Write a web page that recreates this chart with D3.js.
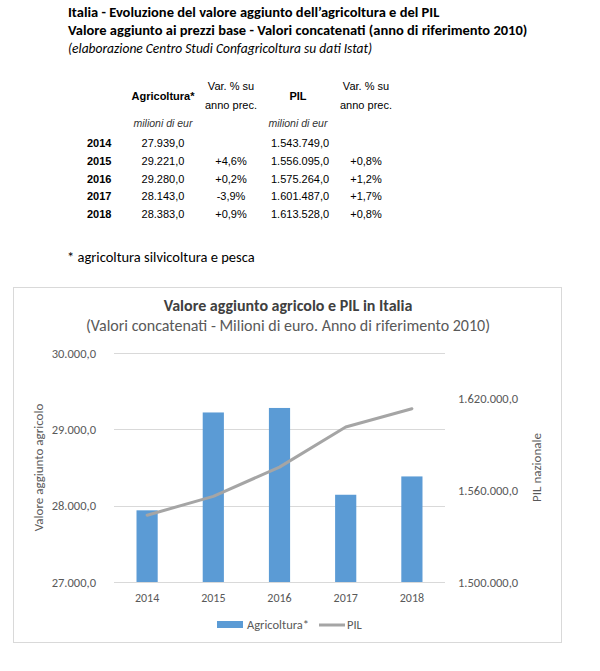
<!DOCTYPE html>
<html><head><meta charset="utf-8">
<script src="https://cdn.jsdelivr.net/npm/d3@7"></script>
<style>body{margin:0;background:#fff}svg{display:block}</style>
</head><body>
<script>
// ---- data ----
const years = ["2014","2015","2016","2017","2018"];
const agricoltura = [27939.0, 29221.0, 29280.0, 28143.0, 28383.0];
const agriVar = ["", "+4,6%", "+0,2%", "-3,9%", "+0,9%"];
const pil = [1543749.0, 1556095.0, 1575264.0, 1601487.0, 1613528.0];
const pilVar = ["", "+0,8%", "+1,2%", "+1,7%", "+0,8%"];
const leftTicks = [27000, 28000, 29000, 30000];
const rightTicks = [1500000, 1560000, 1620000];
const seriesNames = ["Agricoltura*", "PIL"];

const W = 600, H = 671;
const svg = d3.select("body").append("svg").attr("width", W).attr("height", H);
const calibri = "Carlito, Lato, 'Open Sans', sans-serif";
const arial = "'Liberation Sans', Arial, sans-serif";

// number format Italian style: 1.543.749,0
const itFmt = d3.formatLocale({decimal: ",", thousands: ".", grouping: [3], currency: ["€",""]}).format(",.1f");

// ---- header text ----
svg.append("text").attr("x", 68).attr("y", 17).attr("font-family", calibri).attr("font-weight", "bold")
  .attr("font-size", 14.5).attr("fill", "#000").text("Italia - Evoluzione del valore aggiunto dell\u2019agricoltura e del PIL");
svg.append("text").attr("x", 68).attr("y", 35).attr("font-family", calibri).attr("font-weight", "bold")
  .attr("font-size", 14.5).attr("fill", "#000").text("Valore aggiunto ai prezzi base - Valori concatenati (anno di riferimento 2010)");
svg.append("text").attr("x", 68).attr("y", 53).attr("font-family", calibri).attr("font-style", "italic")
  .attr("font-size", 13.5).attr("fill", "#000").text("(elaborazione Centro Studi Confagricoltura su dati Istat)");

// ---- table ----
const tbl = svg.append("g").attr("font-family", arial).attr("font-size", 11).attr("fill", "#000");
const colX = {agri: 163, agriVar: 231, pil: 294, pilVar: 366};
tbl.append("text").attr("x", colX.agri).attr("y", 100).attr("text-anchor", "middle").attr("font-weight", "bold").text("Agricoltura*");
tbl.append("text").attr("x", colX.agriVar).attr("y", 90).attr("text-anchor", "middle").text("Var. % su");
tbl.append("text").attr("x", colX.agriVar).attr("y", 109).attr("text-anchor", "middle").text("anno prec.");
tbl.append("text").attr("x", 298).attr("y", 100).attr("text-anchor", "middle").attr("font-weight", "bold").text("PIL");
tbl.append("text").attr("x", colX.pilVar).attr("y", 90).attr("text-anchor", "middle").text("Var. % su");
tbl.append("text").attr("x", colX.pilVar).attr("y", 109).attr("text-anchor", "middle").text("anno prec.");
tbl.append("text").attr("x", colX.agri).attr("y", 127).attr("text-anchor", "middle").attr("font-style", "italic").attr("fill", "#333").attr("font-size", 10.5).text("milioni di eur");
tbl.append("text").attr("x", 298).attr("y", 127).attr("text-anchor", "middle").attr("font-style", "italic").attr("fill", "#333").attr("font-size", 10.5).text("milioni di eur");
const rowY = d3.scalePoint().domain(years).range([147, 218]);
years.forEach((y, i) => {
  const ry = rowY(y);
  tbl.append("text").attr("x", 87).attr("y", ry).attr("font-weight", "bold").text(y);
  tbl.append("text").attr("x", colX.agri).attr("y", ry).attr("text-anchor", "middle").text(itFmt(agricoltura[i]));
  tbl.append("text").attr("x", colX.agriVar).attr("y", ry).attr("text-anchor", "middle").text(agriVar[i]);
  tbl.append("text").attr("x", 271).attr("y", ry).text(itFmt(pil[i]));
  tbl.append("text").attr("x", colX.pilVar).attr("y", ry).attr("text-anchor", "middle").text(pilVar[i]);
});

// footnote
svg.append("text").attr("x", 67).attr("y", 262).attr("font-family", calibri).attr("font-size", 14.5)
  .attr("fill", "#000").text("* agricoltura silvicoltura e pesca");

// ---- chart box ----
svg.append("rect").attr("x", 13.5).attr("y", 287.5).attr("width", 548).attr("height", 355)
  .attr("fill", "#fff").attr("stroke", "#d9d9d9").attr("stroke-width", 1);

svg.append("text").attr("x", 288).attr("y", 311).attr("text-anchor", "middle").attr("font-family", calibri)
  .attr("font-weight", "bold").attr("font-size", 16).attr("fill", "#404040").text("Valore aggiunto agricolo e PIL in Italia");
svg.append("text").attr("x", 288).attr("y", 331).attr("text-anchor", "middle").attr("font-family", calibri)
  .attr("font-size", 16).attr("fill", "#595959").text("(Valori concatenati - Milioni di euro. Anno di riferimento 2010)");

const plot = {l: 114, r: 445, t: 353, b: 582};
const x = d3.scaleBand().domain(years).range([plot.l, plot.r]).padding(0);
const yL = d3.scaleLinear().domain([27000, 30000]).range([plot.b, plot.t]);
const yR = d3.scaleLinear().domain([1500000, 1650000]).range([plot.b, plot.t]);

// grid
svg.append("g").selectAll("line").data(leftTicks).join("line")
  .attr("x1", plot.l).attr("x2", plot.r).attr("y1", d => Math.round(yL(d)) + 0.5).attr("y2", d => Math.round(yL(d)) + 0.5)
  .attr("stroke", "#d9d9d9").attr("stroke-width", 1);

// left axis
const axL = svg.append("g").attr("transform", `translate(${plot.l},0)`)
  .call(d3.axisLeft(yL).tickValues(leftTicks).tickFormat(itFmt).tickSize(0).tickPadding(18));
axL.select(".domain").remove();
axL.selectAll("text").attr("font-family", calibri).attr("font-size", 12.5).attr("fill", "#595959");

// right axis
const axR = svg.append("g").attr("transform", `translate(${plot.r},0)`)
  .call(d3.axisRight(yR).tickValues(rightTicks).tickFormat(itFmt).tickSize(0).tickPadding(13));
axR.select(".domain").remove();
axR.selectAll("text").attr("font-family", calibri).attr("font-size", 12.5).attr("fill", "#595959");

// x axis
const axX = svg.append("g").attr("transform", `translate(0,${plot.b})`)
  .call(d3.axisBottom(x).tickSize(0).tickPadding(11));
axX.select(".domain").remove();
axX.selectAll("text").attr("font-family", calibri).attr("font-size", 12).attr("fill", "#595959");

// axis titles
svg.append("text").attr("transform", `translate(43,${(plot.t + plot.b) / 2}) rotate(-90)`)
  .attr("text-anchor", "middle").attr("font-family", calibri).attr("font-size", 13).attr("fill", "#595959")
  .text("Valore aggiunto agricolo");
svg.append("text").attr("transform", `translate(541,${(plot.t + plot.b) / 2}) rotate(-90)`)
  .attr("text-anchor", "middle").attr("font-family", calibri).attr("font-size", 13).attr("fill", "#595959")
  .text("PIL nazionale");

// bars
const bw = x.bandwidth() * 0.32;
svg.append("g").selectAll("rect").data(years).join("rect")
  .attr("x", d => x(d) + x.bandwidth() / 2 - bw / 2).attr("width", bw)
  .attr("y", (d, i) => yL(agricoltura[i])).attr("height", (d, i) => plot.b - yL(agricoltura[i]))
  .attr("fill", "#5b9bd5");

// line
const line = d3.line().x((d, i) => x(years[i]) + x.bandwidth() / 2).y(d => yR(d));
svg.append("path").datum(pil).attr("d", line).attr("fill", "none")
  .attr("stroke", "#a5a5a5").attr("stroke-width", 3).attr("stroke-linejoin", "round").attr("stroke-linecap", "round");

// legend
const lg = svg.append("g").attr("font-family", calibri).attr("font-size", 12.5).attr("fill", "#595959");
lg.append("rect").attr("x", 217).attr("y", 621).attr("width", 26).attr("height", 7).attr("fill", "#5b9bd5");
lg.append("text").attr("x", 247).attr("y", 629).text(seriesNames[0]);
lg.append("line").attr("x1", 319).attr("x2", 345).attr("y1", 625).attr("y2", 625).attr("stroke", "#a5a5a5").attr("stroke-width", 3);
lg.append("text").attr("x", 347).attr("y", 629).text(seriesNames[1]);
</script>
</body></html>
